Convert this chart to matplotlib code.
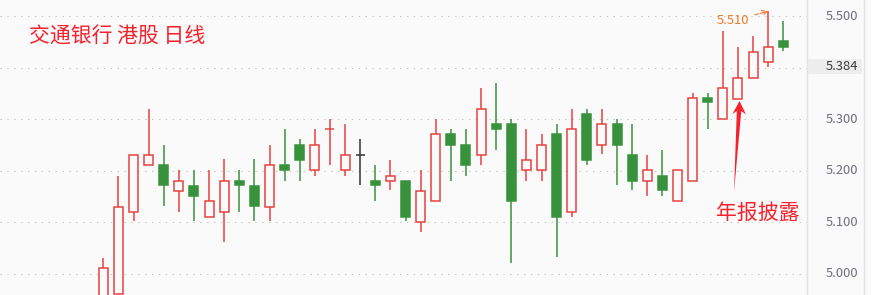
import numpy as np
import matplotlib.pyplot as plt
import matplotlib.transforms as mtransforms
from matplotlib.patches import Polygon, Rectangle
from matplotlib.lines import Line2D

plt.rcParams['font.family'] = ['Noto Sans CJK SC', 'DejaVu Sans']

# 日K数据
opens = [4.950, 4.961, 5.120, 5.211, 5.212, 5.161, 5.171, 5.110, 5.120, 5.181,
         5.171, 5.130, 5.212, 5.251, 5.201, 5.281, 5.201, 5.231, 5.181, 5.180,
         5.181, 5.100, 5.141, 5.272, 5.251, 5.231, 5.291, 5.291, 5.201, 5.201,
         5.272, 5.120, 5.311, 5.250, 5.291, 5.231, 5.180, 5.190, 5.141, 5.180,
         5.341, 5.300, 5.340, 5.380, 5.411, 5.452]
highs = [5.031, 5.190, 5.231, 5.320, 5.251, 5.202, 5.202, 5.202, 5.224, 5.202,
         5.224, 5.251, 5.282, 5.262, 5.282, 5.301, 5.291, 5.262, 5.212, 5.221,
         5.181, 5.202, 5.301, 5.282, 5.282, 5.361, 5.371, 5.301, 5.282, 5.272,
         5.291, 5.320, 5.320, 5.320, 5.301, 5.291, 5.231, 5.241, 5.201, 5.351,
         5.351, 5.472, 5.440, 5.463, 5.510, 5.491]
lows = [4.940, 4.961, 5.102, 5.211, 5.131, 5.121, 5.102, 5.110, 5.061, 5.121,
        5.102, 5.102, 5.181, 5.181, 5.191, 5.212, 5.191, 5.172, 5.142, 5.162,
        5.102, 5.082, 5.141, 5.181, 5.191, 5.212, 5.241, 5.022, 5.181, 5.181,
        5.032, 5.111, 5.212, 5.232, 5.172, 5.162, 5.152, 5.152, 5.141, 5.180,
        5.282, 5.300, 5.340, 5.380, 5.402, 5.432]
closes = [5.011, 5.130, 5.231, 5.231, 5.172, 5.180, 5.152, 5.141, 5.180, 5.172,
          5.131, 5.211, 5.202, 5.221, 5.250, 5.281, 5.231, 5.231, 5.172, 5.190,
          5.111, 5.161, 5.271, 5.251, 5.212, 5.320, 5.282, 5.142, 5.221, 5.250,
          5.111, 5.281, 5.222, 5.291, 5.251, 5.181, 5.201, 5.162, 5.201, 5.341,
          5.333, 5.361, 5.380, 5.431, 5.440, 5.441]

ytick_vals = [5.0, 5.1, 5.2, 5.3, 5.5]
ytick_labels = ['5.000', '5.100', '5.200', '5.300', '5.500']
grid_vals = [5.0, 5.1, 5.2, 5.3, 5.4, 5.5]
last_label = '5.384'
peak_label = '5.510'
title = '交通银行 港股 日线'
note = '年报披露'

UP = '#e64340'
DOWN = '#38923b'
FLAT = '#333333'
BG = '#fafafa'

W, H = 871, 295
fig = plt.figure(figsize=(W / 100, H / 100), dpi=100, facecolor=BG)
ax = fig.add_axes([0, 0, 807 / W, 1])
ax.set_facecolor(BG)

o = np.array(opens)
h = np.array(highs)
l = np.array(lows)
c = np.array(closes)
x = np.arange(len(o))
prev = np.concatenate([[o[0]], c[:-1]])

colors = []
for i in range(len(o)):
    if c[i] > o[i]:
        colors.append(UP)
    elif c[i] < o[i]:
        colors.append(DOWN)
    elif c[i] > prev[i]:
        colors.append(UP)
    elif c[i] < prev[i]:
        colors.append(DOWN)
    else:
        colors.append(FLAT)

top = np.maximum(o, c)
bot = np.minimum(o, c)
ax.vlines(x, top, h, colors=colors, lw=1.1, zorder=2)
ax.vlines(x, l, bot, colors=colors, lw=1.1, zorder=2)
faces = [BG if (c[i] > o[i]) else colors[i] for i in range(len(o))]
ax.bar(x, top - bot, bottom=bot, width=0.6, facecolor=faces,
       edgecolor=colors, linewidth=1.1, zorder=3)

for v in grid_vals:
    ax.axhline(v, color='#c4c4c4', lw=0.8, ls=(0, (1.2, 5)), zorder=0)

ax.set_xlim(-6.836, 46.57)
ax.set_ylim(4.959, 5.532)
ax.set_xticks([])
ax.set_yticks([])
for s in ['top', 'left', 'bottom']:
    ax.spines[s].set_visible(False)
ax.spines['right'].set_color('#e2e2e2')
ax.spines['right'].set_linewidth(1)

fig.add_artist(Line2D([864 / W] * 2, [0, 1], transform=fig.transFigure,
                      color='#e2e2e2', lw=1))

trans = mtransforms.blended_transform_factory(fig.transFigure, ax.transData)
for v, lab in zip(ytick_vals, ytick_labels):
    ax.text(858 / W, v, lab, transform=trans, ha='right', va='center',
            fontsize=9.3, color='#6e7079', clip_on=False)

# 当前价标签
fig.add_artist(Rectangle((808 / W, 1 - 74 / H), 54 / W, 15 / H,
                         transform=fig.transFigure, fc='#ededed', ec='none',
                         zorder=2))
fig.text(858 / W, 1 - 67 / H, last_label, ha='right', va='center',
         fontsize=9.3, color='#3a3a3a', zorder=5)

# 最高价标注
imax = int(np.argmax(h))
ax.annotate(peak_label, xy=(imax, h[imax]), xycoords='data',
            xytext=(-19, -9), textcoords='offset pixels',
            ha='right', va='center', fontsize=9.3, color='#f07a2a',
            arrowprops=dict(arrowstyle='->', color='#f07a2a', ls='--',
                            lw=0.8, shrinkA=2, shrinkB=0))

fig.text(29 / W, 1 - 36.7 / H, title, fontsize=15, color='#f5222d',
         ha='left', va='center')
fig.text(716 / W, 1 - 213 / H, note, fontsize=15, color='#f5222d',
         ha='left', va='center')

# 红色箭头
pts = [(739.5, 101), (746, 114.5), (741.3, 111), (734, 192),
       (736.8, 111), (732.5, 114)]
pts = [(px / W, 1 - py / H) for px, py in pts]
fig.add_artist(Polygon(pts, closed=True, transform=fig.transFigure,
                       fc='#f5222d', ec='none'))

fig.savefig('out.png', dpi=100, facecolor=BG)
